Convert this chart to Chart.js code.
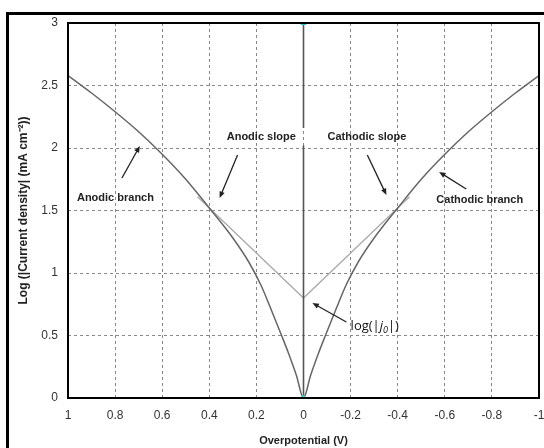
<!DOCTYPE html>
<html>
<head>
<meta charset="utf-8">
<script src="https://cdn.jsdelivr.net/npm/chart.js@4.4.1/dist/chart.umd.min.js"></script>
<style>
  body { margin: 0; background: #fff; overflow: hidden; }
  #frame { position: absolute; left: 6px; top: 12px; width: 600px; height: 500px; border: 3px solid #000; }
  #wrap { position: absolute; left: 0; top: 0; width: 544px; height: 448px; }
</style>
</head>
<body>
<div id="frame"></div>
<div id="wrap"><canvas id="tafel" width="544" height="448"></canvas></div>
<script>
// overpotential (V) and log|j|, anodic side (cathodic is mirrored)
const etaValues = [0, 0.03, 0.064, 0.093, 0.14, 0.18, 0.233, 0.3, 0.4, 0.5, 0.6, 0.7, 0.8, 0.9, 1.0];
const anodicCurve = [0, 0.18, 0.36, 0.5, 0.72, 0.9, 1.09, 1.28, 1.52, 1.75, 1.95, 2.13, 2.29, 2.44, 2.58];
const cathodicCurve = [0, 0.18, 0.36, 0.5, 0.72, 0.9, 1.09, 1.28, 1.52, 1.75, 1.95, 2.13, 2.29, 2.44, 2.58];

// straight Tafel slopes meeting at log|j0|
const slopeEta = [-0.45, 0, 0.45];
const slopeLog = [1.61, 0.8, 1.61];

// vertical line at zero overpotential (broken where the labels sit)
const zeroLineLog = [0, 2.02, null, 2.16, 3];

const xTicks = [1, 0.8, 0.6, 0.4, 0.2, 0, -0.2, -0.4, -0.6, -0.8, -1];
const yTicks = [0, 0.5, 1, 1.5, 2, 2.5, 3];

// build point lists
const curvePoints = [];
for (let i = etaValues.length - 1; i > 0; i--) {
  curvePoints.push({ x: -etaValues[i], y: cathodicCurve[i] });
}
for (let i = 0; i < etaValues.length; i++) {
  curvePoints.push({ x: etaValues[i], y: anodicCurve[i] });
}
const slopePoints = slopeEta.map((e, i) => ({ x: e, y: slopeLog[i] }));
const zeroPoints = zeroLineLog.map(v => ({ x: 0, y: v }));

// text labels and arrows, in data units
const labels = [
  { text: 'Anodic branch', x: 0.962, y: 1.60 },
  { text: 'Anodic slope', x: 0.326, y: 2.09 },
  { text: 'Cathodic slope', x: -0.102, y: 2.09 },
  { text: 'Cathodic branch', x: -0.564, y: 1.585 },
];
const arrows = [
  { from: [0.771, 1.76], to: [0.695, 2.016] },
  { from: [0.280, 1.944], to: [0.356, 1.60] },
  { from: [-0.271, 1.944], to: [-0.352, 1.624] },
  { from: [-0.691, 1.672], to: [-0.576, 1.808] },
  { from: [-0.182, 0.608], to: [-0.038, 0.76] },
];

const annotate = {
  id: 'annotate',
  afterDatasetsDraw(chart) {
    const ctx = chart.ctx;
    const xs = chart.scales.x, ys = chart.scales.y;
    const a = chart.chartArea;
    ctx.save();
    // plot frame
    ctx.strokeStyle = '#000';
    ctx.lineWidth = 2;
    ctx.strokeRect(a.left, a.top, a.right - a.left, a.bottom - a.top);

    ctx.fillStyle = '#222';
    ctx.textBaseline = 'middle';
    ctx.textAlign = 'left';
    labels.forEach(l => {
      ctx.font = 'bold 11px "Liberation Sans", Arial, sans-serif';
      ctx.fillText(l.text, xs.getPixelForValue(l.x), ys.getPixelForValue(l.y));
    });

    // log(|j0|) label
    let px = xs.getPixelForValue(-0.2), py = ys.getPixelForValue(0.57);
    const f = '13px "Open Sans", "Noto Sans", sans-serif';
    ctx.fillStyle = '#111';
    ctx.font = f;
    let s = 'log(|';
    ctx.fillText(s, px, py); px += ctx.measureText(s).width;
    ctx.font = 'italic ' + f;
    ctx.fillText('j', px, py); px += ctx.measureText('j').width;
    ctx.font = 'italic 9px "Open Sans", "Noto Sans", sans-serif';
    ctx.fillText('0', px, py + 4); px += ctx.measureText('0').width;
    ctx.font = f;
    ctx.fillText('|)', px, py);

    ctx.strokeStyle = '#222';
    ctx.fillStyle = '#222';
    ctx.lineWidth = 1.3;
    arrows.forEach(ar => {
      const x1 = xs.getPixelForValue(ar.from[0]), y1 = ys.getPixelForValue(ar.from[1]);
      const x2 = xs.getPixelForValue(ar.to[0]), y2 = ys.getPixelForValue(ar.to[1]);
      const ang = Math.atan2(y2 - y1, x2 - x1);
      ctx.beginPath();
      ctx.moveTo(x1, y1);
      ctx.lineTo(x2 - 4 * Math.cos(ang), y2 - 4 * Math.sin(ang));
      ctx.stroke();
      ctx.beginPath();
      ctx.moveTo(x2, y2);
      ctx.lineTo(x2 - 7 * Math.cos(ang - 0.4), y2 - 7 * Math.sin(ang - 0.4));
      ctx.lineTo(x2 - 7 * Math.cos(ang + 0.4), y2 - 7 * Math.sin(ang + 0.4));
      ctx.closePath();
      ctx.fill();
    });
    ctx.restore();
  }
};

function createChart() {
  const ctx = document.getElementById('tafel').getContext('2d');

  new Chart(ctx, {
    type: 'line',
    data: {
      datasets: [
        {
          label: 'Tafel slopes',
          data: slopePoints,
          borderColor: '#aaa',
          borderWidth: 1.3,
          pointRadius: 0,
          order: 3,
        },
        {
          label: 'Current density',
          data: curvePoints,
          borderColor: '#666',
          borderWidth: 1.5,
          pointRadius: 0,
          cubicInterpolationMode: 'monotone',
          order: 2,
        },
        {
          label: 'Zero',
          data: zeroPoints,
          borderColor: '#555',
          borderWidth: 1.6,
          pointRadius: 0,
          spanGaps: false,
          order: 1,
        },
        {
          label: 'Marks',
          data: [{ x: 0, y: 3 }, { x: 0, y: 0 }],
          showLine: false,
          pointStyle: 'triangle',
          pointRadius: 3,
          borderColor: '#3cc',
          backgroundColor: '#6dd',
          borderWidth: 1,
          order: 0,
        },
      ],
    },
    options: {
      responsive: false,
      animation: false,
      events: [],
      layout: { padding: { top: 23, right: 4, left: 12, bottom: 0 } },
      plugins: { legend: { display: false }, tooltip: { enabled: false } },
      scales: {
        x: {
          type: 'linear',
          reverse: true,
          min: -1,
          max: 1,
          afterBuildTicks: s => { s.ticks = xTicks.map(v => ({ value: v })); },
          afterFit: s => { s.height = 50; s.paddingLeft = 0; s.paddingRight = 0; },
          ticks: {
            color: '#333',
            font: { family: '"Liberation Sans", Arial, sans-serif', size: 12 },
            padding: 10,
            maxRotation: 0,
            callback: v => String(v),
          },
          grid: { color: '#888', lineWidth: 1, drawTicks: false },
          border: { display: false, dash: [3, 3] },
          title: {
            display: true,
            text: 'Overpotential (V)',
            color: '#222',
            font: { family: '"Liberation Sans", Arial, sans-serif', size: 11, weight: 'bold' },
            padding: { top: 4, bottom: 0 },
          },
        },
        y: {
          type: 'linear',
          min: 0,
          max: 3,
          afterBuildTicks: s => { s.ticks = yTicks.map(v => ({ value: v })); },
          afterFit: s => { s.width = 56; s.paddingTop = 0; s.paddingBottom = 0; },
          ticks: {
            color: '#333',
            font: { family: '"Liberation Sans", Arial, sans-serif', size: 12 },
            padding: 10,
            callback: v => String(v),
          },
          grid: { color: '#888', lineWidth: 1, drawTicks: false },
          border: { display: false, dash: [3, 3] },
          title: {
            display: true,
            text: 'Log (|Current density| (mA cm\u207B\u00B2))',
            color: '#222',
            font: { family: '"Liberation Sans", Arial, sans-serif', size: 12, weight: 'bold' },
            padding: { top: 4, bottom: 0 },
          },
        },
      },
    },
    plugins: [annotate],
  });
}

window.onload = createChart;
</script>
</body>
</html>
